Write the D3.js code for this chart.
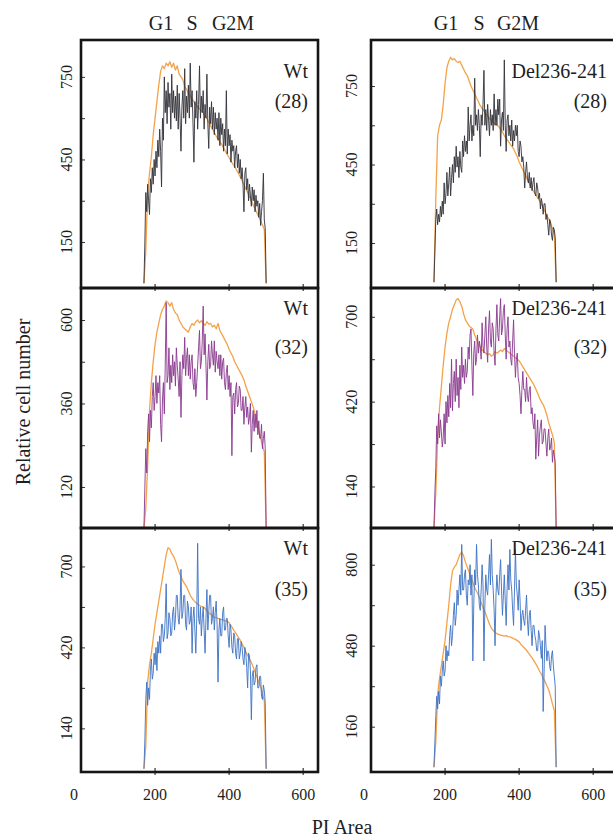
<!DOCTYPE html>
<html><head><meta charset="utf-8">
<script src="https://cdn.jsdelivr.net/npm/d3@7"></script>
<style>
body{margin:0;background:#fff}
svg{display:block}
text{font-family:"Liberation Serif","Times New Roman",serif;fill:#1e1e1e}
</style>
</head><body>
<svg id="c" width="613" height="839"></svg>
<script>
// ---------- DATA ----------
// channels of the reference (orange) histograms
const refChannels = [170,175,180,185,190,195,200,205,210,215,
220,225,230,235,240,245,250,255,260,265,
270,275,280,285,290,295,300,305,310,315,
320,325,330,335,340,345,350,355,360,365,
370,375,380,385,390,395,400,405,410,415,
420,425,430,435,440,445,450,455,460,465,
470,475,480,485,490,495,500];

// channels of the measured (noisy) histograms
const obsChannels = [170,172.5,175,177.5,180,182.5,185,187.5,190,192.5,
195,197.5,200,202.5,205,207.5,210,212.5,215,217.5,
220,222.5,225,227.5,230,232.5,235,237.5,240,242.5,
245,247.5,250,252.5,255,257.5,260,262.5,265,267.5,
270,272.5,275,277.5,280,282.5,285,287.5,290,292.5,
295,297.5,300,302.5,305,307.5,310,312.5,315,317.5,
320,322.5,325,327.5,330,332.5,335,337.5,340,342.5,
345,347.5,350,352.5,355,357.5,360,362.5,365,367.5,
370,372.5,375,377.5,380,382.5,385,387.5,390,392.5,
395,397.5,400,402.5,405,407.5,410,412.5,415,417.5,
420,422.5,425,427.5,430,432.5,435,437.5,440,442.5,
445,447.5,450,452.5,455,457.5,460,462.5,465,467.5,
470,472.5,475,477.5,480,482.5,485,487.5,490,492.5,
495,497.5,500];

// Wt (28)
const refWt28 = [0,120,330,400,460,540,600,660,720,770,
790,780,800,790,805,785,800,775,790,760,
750,740,715,705,690,680,670,660,650,640,
635,628,620,608,598,585,572,560,548,535,
525,515,505,492,480,468,456,444,434,424,
412,400,386,372,358,344,330,316,300,285,
270,256,242,228,212,196,0];
const obsWt28 = [0,150,330,260,360,300,250,380,330,420,
360,450,390,480,420,520,460,560,480,350,
600,520,750,620,700,580,730,640,690,560,
760,620,700,600,680,590,720,560,690,600,
480,640,700,600,780,580,680,620,720,600,
800,640,700,580,440,660,600,700,560,650,
790,600,680,620,700,560,650,600,760,580,
490,640,580,660,560,640,540,620,560,600,
520,620,500,600,540,580,480,560,500,700,
470,560,500,540,440,520,480,500,420,480,
500,420,470,400,450,380,420,360,260,400,
420,340,380,300,360,320,280,350,300,340,
260,320,280,300,240,290,210,260,300,400,
230,200,0];

// Del236-241 (28)
const refDel28 = [0,320,560,600,620,680,760,820,845,860,
850,855,845,840,845,830,815,800,790,770,
750,735,720,705,690,675,665,655,645,635,
625,620,612,605,600,595,585,575,560,550,
540,530,520,510,495,480,460,445,430,415,
400,385,370,355,345,335,322,312,300,285,
270,255,242,225,205,185,0];
const obsDel28 = [0,120,240,280,220,260,230,290,250,310,
260,380,300,340,420,330,380,440,330,400,
450,380,480,420,520,440,480,400,500,440,
420,540,480,560,500,540,490,670,540,600,
640,540,600,560,780,600,640,580,660,600,
480,640,600,680,810,600,660,580,680,620,
560,660,600,640,580,720,600,660,600,700,
640,700,520,620,650,580,850,600,500,620,
640,560,600,540,620,520,580,540,600,560,
600,500,480,540,520,460,480,440,360,420,
460,400,380,420,360,400,350,380,400,340,
330,380,360,320,340,280,320,300,260,300,
300,240,260,220,180,240,230,180,160,210,
200,170,0];

// Wt (32)
const refWt32 = [0,60,180,340,420,480,530,565,590,615,
630,640,655,650,640,650,630,620,615,600,
590,580,575,570,565,580,590,585,595,600,
592,598,590,585,595,588,590,580,585,575,
590,570,560,550,540,530,515,505,495,480,
470,460,450,440,428,410,395,380,365,350,
330,305,280,260,240,220,0];
const obsWt32 = [0,120,230,160,280,330,250,340,290,380,
420,340,380,440,360,420,390,440,300,250,
370,420,330,470,650,420,440,520,400,470,
420,500,440,480,410,520,470,430,380,480,
320,440,500,460,550,440,490,520,440,500,
430,480,500,420,400,460,380,420,470,520,
570,460,480,540,640,500,560,470,370,480,
530,460,470,540,500,470,540,450,510,480,
460,500,440,500,430,480,490,420,400,450,
470,400,440,380,420,210,380,390,330,400,
420,350,360,410,400,340,340,380,300,350,
380,320,350,300,320,360,220,300,340,280,
330,290,340,270,310,260,260,300,230,260,
280,230,0];

// Del236-241 (32)
const refDel32 = [0,120,300,400,470,540,600,645,680,700,
725,740,755,760,750,735,710,690,680,670,
665,660,640,625,610,600,590,585,580,575,
578,570,575,585,580,585,590,585,595,590,
585,580,575,570,565,560,555,545,535,525,
515,505,495,485,475,462,448,432,420,410,
395,375,350,330,310,285,0];
const obsDel32 = [0,120,200,340,280,380,300,360,320,270,
300,380,280,420,350,440,370,480,400,560,
390,480,520,420,560,440,500,400,540,460,
600,500,540,480,560,500,520,600,560,640,
660,540,440,580,620,540,560,640,580,620,
600,560,680,600,580,640,700,600,550,660,
720,620,600,680,660,580,540,660,740,640,
620,700,760,640,660,720,740,640,560,660,
700,600,620,560,540,620,690,580,500,560,
580,500,480,440,380,460,520,460,460,420,
500,440,420,460,470,380,400,350,330,380,
230,300,360,240,310,340,360,280,290,330,
330,280,240,300,330,260,270,300,220,260,
240,220,0];

// Wt (35)
const refWt35 = [0,80,300,360,400,450,500,540,580,620,
660,700,740,765,760,745,735,720,700,680,
665,650,640,630,615,600,590,582,575,570,
565,562,560,555,545,540,535,530,525,522,
520,518,516,514,512,510,505,495,485,475,
465,455,445,432,420,405,392,380,368,352,
335,318,300,285,260,235,0];
const obsWt35 = [0,100,240,300,220,280,240,340,380,310,
330,400,360,420,340,440,400,460,400,500,
500,440,460,520,640,450,470,540,520,460,
470,540,560,480,520,600,600,520,500,560,
690,520,540,600,600,500,480,580,560,500,
510,560,400,520,560,480,400,520,780,520,
500,560,460,520,560,480,400,520,620,480,
540,600,600,500,520,560,480,540,580,500,
300,480,520,460,460,540,560,480,480,520,
520,460,420,500,480,420,400,470,460,400,
380,450,450,380,400,440,420,380,360,420,
400,350,280,400,390,340,170,320,340,290,
300,350,360,280,280,320,320,250,240,290,
270,230,0];

// Del236-241 (35)
const refDel35 = [0,100,290,350,400,450,500,570,640,720,
775,790,800,820,840,850,835,810,790,770,
750,730,710,695,680,660,640,622,605,585,
565,550,540,532,528,525,522,520,518,520,
516,515,512,508,505,500,495,485,478,470,
462,452,442,432,420,408,395,380,368,352,
338,322,305,280,250,225,0];
const obsDel35 = [0,100,200,280,230,300,250,360,320,380,
420,360,380,480,420,460,440,520,560,480,
520,600,650,560,600,700,640,700,760,680,
880,700,700,760,780,680,640,740,720,800,
680,760,420,640,780,720,880,760,720,640,
620,700,800,720,420,640,760,700,680,760,
840,720,900,760,700,620,480,680,760,700,
680,760,820,700,600,680,760,660,560,700,
800,700,860,740,700,620,560,700,860,720,
680,620,740,660,540,600,620,580,560,620,
680,580,520,600,620,540,480,560,560,520,
500,460,460,540,520,480,430,500,220,380,
560,480,420,460,450,400,380,440,460,400,
360,320,0];

// axis ticks
const xTicks = [200, 400, 600];
const xTickLabels = [0, 200, 400, 600];
const ticks28 = [150, 300, 450, 600, 750], labels28 = [150, 450, 750];
const ticksWt32 = [120, 240, 360, 480, 600], labelsWt32 = [120, 360, 600];
const ticksDel32 = [140, 280, 420, 560, 700], labelsDel32 = [140, 420, 700];
const ticksWt35 = [140, 280, 420, 560, 700], labelsWt35 = [140, 420, 700];
const ticksDel35 = [160, 320, 480, 640, 800], labelsDel35 = [160, 480, 800];
const phases = ["G1", "S", "G2M"];

// ---------- LAYOUT / STYLE ----------
const cOrange = "#f3a24a", cBlack = "#34343c", cPurple = "#8b3b8f", cBlue = "#3f73c6";
const cols = [{x: 81, w: 237, lab: 66, end: 308, ph: [161, 192, 233]},
              {x: 371, w: 262, lab: 351, end: 607, ph: [446, 479, 518]}];
const rows = [{y: 40, h: 248, l1: 38, l2: 68},
              {y: 288, h: 240, l1: 27, l2: 66},
              {y: 528, h: 244, l1: 27, l2: 68}];

const panels = [
  {row:0,col:0,name:"Wt",temp:"(28)",ref:refWt28,obs:obsWt28,color:cBlack,yDomain:[-17,884],ticks:ticks28,labels:labels28},
  {row:0,col:1,name:"Del236-241",temp:"(28)",ref:refDel28,obs:obsDel28,color:cBlack,yDomain:[-22,926],ticks:ticks28,labels:labels28},
  {row:1,col:0,name:"Wt",temp:"(32)",ref:refWt32,obs:obsWt32,color:cPurple,yDomain:[2,692],ticks:ticksWt32,labels:labelsWt32},
  {row:1,col:1,name:"Del236-241",temp:"(32)",ref:refDel32,obs:obsDel32,color:cPurple,yDomain:[3,795],ticks:ticksDel32,labels:labelsDel32},
  {row:2,col:0,name:"Wt",temp:"(35)",ref:refWt35,obs:obsWt35,color:cBlue,yDomain:[-11,833],ticks:ticksWt35,labels:labelsWt35},
  {row:2,col:1,name:"Del236-241",temp:"(35)",ref:refDel35,obs:obsDel35,color:cBlue,yDomain:[-19,945],ticks:ticksDel35,labels:labelsDel35}
];

const svg = d3.select("#c");
const defs = svg.append("defs");

panels.forEach((p, i) => {
  const c = cols[p.col], r = rows[p.row];
  const x = d3.scaleLinear().domain([0, 640]).range([c.x, c.x + 237]);
  const y = d3.scaleLinear().domain(p.yDomain).range([r.y + r.h, r.y]);
  const id = "clip" + i;
  defs.append("clipPath").attr("id", id).append("rect")
    .attr("x", c.x).attr("y", r.y).attr("width", c.w).attr("height", r.h);
  const g = svg.append("g");
  const refLine = d3.line().x((d, k) => x(refChannels[k])).y(d => y(d));
  const obsLine = d3.line().x((d, k) => x(obsChannels[k])).y(d => y(d));
  const plot = g.append("g").attr("clip-path", `url(#${id})`);
  plot.append("path").datum(p.ref).attr("d", refLine)
    .attr("fill", "none").attr("stroke", cOrange).attr("stroke-width", 1.3)
    .attr("stroke-linejoin", "round");
  plot.append("path").datum(p.obs).attr("d", obsLine)
    .attr("fill", "none").attr("stroke", p.color).attr("stroke-width", 1)
    .attr("stroke-opacity", 0.92);

  // y ticks (inward)
  g.append("g").attr("transform", `translate(${c.x},0)`)
    .call(d3.axisRight(y).tickValues(p.ticks).tickSize(4).tickFormat(""))
    .call(a => a.select(".domain").remove())
    .selectAll("line").attr("stroke", "#333").attr("stroke-width", 1);
  // y labels (rotated)
  g.selectAll(".yl").data(p.labels).enter().append("text")
    .attr("transform", d => `translate(${c.lab + 6},${y(d)}) rotate(-90)`)
    .attr("text-anchor", "middle").attr("font-size", 16).text(d => d);

  // x ticks crossing bottom edge
  g.selectAll(".xt").data(xTicks).enter().append("line")
    .attr("x1", d => x(d)).attr("x2", d => x(d))
    .attr("y1", r.y + r.h - 4).attr("y2", r.y + r.h + 3)
    .attr("stroke", "#333").attr("stroke-width", 1.2);
  if (p.row === 2) {
    g.selectAll(".xl").data(xTickLabels).enter().append("text")
      .attr("x", d => x(d) + (d === 0 ? -7 : 0)).attr("y", 800)
      .attr("text-anchor", "middle").attr("font-size", 16).text(d => d);
  }

  // frame
  g.append("rect").attr("x", c.x).attr("y", r.y).attr("width", c.w).attr("height", r.h)
    .attr("fill", "none").attr("stroke", "#151515").attr("stroke-width", 2.6);

  // panel labels
  g.append("text").attr("x", c.end).attr("y", r.y + r.l1).attr("text-anchor", "end")
    .attr("font-size", 20).text(p.name);
  g.append("text").attr("x", c.end).attr("y", r.y + r.l2).attr("text-anchor", "end")
    .attr("font-size", 20).text(p.temp);
});

// column phase headers
cols.forEach(c => {
  svg.selectAll(null).data(phases).enter().append("text")
    .attr("x", (d, k) => c.ph[k]).attr("y", 30).attr("text-anchor", "middle")
    .attr("font-size", 20).text(d => d);
});

// axis titles
svg.append("text").attr("transform", "translate(30,402) rotate(-90)")
  .attr("text-anchor", "middle").attr("font-size", 20).text("Relative cell number");
svg.append("text").attr("x", 342).attr("y", 834).attr("text-anchor", "middle")
  .attr("font-size", 20).text("PI Area");
</script>
</body></html>
